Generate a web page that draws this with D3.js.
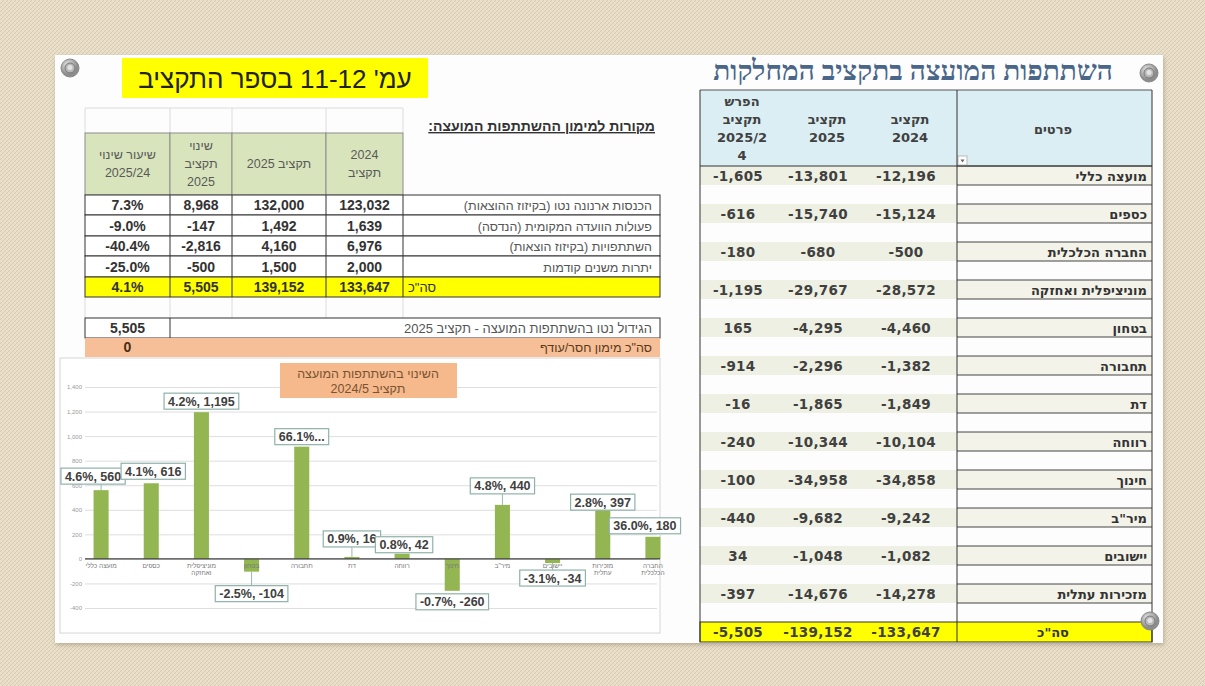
<!DOCTYPE html>
<html>
<head>
<meta charset="utf-8">
<script src="https://cdn.jsdelivr.net/npm/d3@7"></script>
<style>
	body { margin: 0; background: #e6dbc4; }
	svg { display: block; }
</style>
</head>
<body>
<div id="chart"></div>
<script>
// ---- data: right table (department budgets) ----
const deptNames = ['מועצה כללי', 'כספים', 'החברה הכלכלית', 'מוניציפלית ואחזקה', 'בטחון', 'תחבורה', 'דת', 'רווחה', 'חינוך', 'מיר"ב', 'יישובים', 'מזכירות עתלית'];
const budget2024 = [-12196, -15124, -500, -28572, -4460, -1382, -1849, -10104, -34858, -9242, -1082, -14278];
const budget2025 = [-13801, -15740, -680, -29767, -4295, -2296, -1865, -10344, -34958, -9682, -1048, -14676];
const budgetDiff = [-1605, -616, -180, -1195, 165, -914, -16, -240, -100, -440, 34, -397];
const deptTotals = [-5505, -139152, -133647]; // diff, 2025, 2024

// ---- data: left table (funding sources) ----
const sourceNames = ['הכנסות ארנונה נטו (בקיזוז ההוצאות)', 'פעולות הוועדה המקומית (הנדסה)', 'השתתפויות (בקיזוז הוצאות)', 'יתרות משנים קודמות'];
const source2024 = [123032, 1639, 6976, 2000];
const source2025 = [132000, 1492, 4160, 1500];
const sourceChange = [8968, -147, -2816, -500];
const sourceRate = [0.073, -0.09, -0.404, -0.25];
const sourceTotals = [0.041, 5505, 139152, 133647]; // rate, change, 2025, 2024
const netGrowth = 5505;
const fundingGap = 0;

// ---- data: bar chart ----
const chartCats = ['מועצה כללי', 'כספים', 'מוניציפלית ואחזקה', 'בטחון', 'תחבורה', 'דת', 'רווחה', 'חינוך', 'מיר"ב', 'יישובים', 'מזכירות עתלית', 'החברה הכלכלית'];
const chartValues = [560, 616, 1195, -104, 914, 16, 42, -260, 440, -34, 397, 180];
const chartPct = [0.046, 0.041, 0.042, -0.025, 0.661, 0.009, 0.008, -0.007, 0.048, -0.031, 0.028, 0.36];
const yTicks = [-400, -200, 0, 200, 400, 600, 800, 1000, 1200, 1400];

// label nudges (dx, dy) so the boxes sit where the original put them
const labelNudge = [[-8, -2], [2, 0], [0, 1], [0, 8], [0, 2], [0, -6], [2, 3], [0, -3], [0, -7], [0, 1], [0, 4], [-8, 1]];

const W = 1205, H = 686;
const loc = d3.formatLocale({ decimal: '.', thousands: ',', grouping: [3], currency: ['', ''], minus: '-' });
const fmt = loc.format(',');
const pct = loc.format('.1%');

const svg = d3.select('#chart').append('svg').attr('width', W).attr('height', H);
const defs = svg.append('defs');

// canvas texture for the background
const pat = defs.append('pattern').attr('id', 'canvas').attr('width', 4).attr('height', 4).attr('patternUnits', 'userSpaceOnUse');
pat.append('rect').attr('width', 4).attr('height', 4).attr('fill', '#e7ddc7');
pat.append('path').attr('d', 'M0,4L4,0').attr('stroke', '#d8cbb0').attr('stroke-width', 1);
pat.append('path').attr('d', 'M0,0L4,4').attr('stroke', '#f0e9d9').attr('stroke-width', 0.6);

const shadow = defs.append('filter').attr('id', 'shadow').attr('x', '-5%').attr('y', '-5%').attr('width', '110%').attr('height', '110%');
shadow.append('feDropShadow').attr('dx', 1).attr('dy', 2).attr('stdDeviation', 2).attr('flood-color', '#8a7d66').attr('flood-opacity', 0.5);

const pinGrad = defs.append('radialGradient').attr('id', 'pin').attr('cx', '40%').attr('cy', '35%');
pinGrad.append('stop').attr('offset', '0%').attr('stop-color', '#f4f4f4');
pinGrad.append('stop').attr('offset', '100%').attr('stop-color', '#8c8c8c');

svg.append('rect').attr('width', W).attr('height', H).attr('fill', 'url(#canvas)');

// white slide
svg.append('rect').attr('x', 55).attr('y', 55).attr('width', 1108).attr('height', 588)
	.attr('fill', '#fdfdfd').attr('filter', 'url(#shadow)');

// hebrew text helper (align = visual side)
function heb(g, txt, x, y, align, size, opts = {}) {
	const anchor = align === 'right' ? 'start' : align === 'left' ? 'end' : 'middle';
	return g.append('text')
		.attr('x', x).attr('y', y)
		.attr('direction', 'rtl')
		.style('direction', 'rtl')
		.attr('text-anchor', anchor)
		.attr('font-family', opts.family || 'Liberation Sans, Arial, sans-serif')
		.attr('font-size', size)
		.attr('font-weight', opts.weight || 'normal')
		.attr('fill', opts.fill || '#333')
		.attr('text-decoration', opts.underline ? 'underline' : null)
		.text(txt);
}
function num(g, txt, x, y, size, opts = {}) {
	return g.append('text')
		.attr('x', x).attr('y', y)
		.attr('text-anchor', 'middle')
		.attr('font-family', opts.family || 'Liberation Sans, Arial, sans-serif')
		.attr('font-size', size)
		.attr('font-weight', opts.weight || 'bold')
		.attr('fill', opts.fill || '#333')
		.attr('letter-spacing', opts.spacing || 0)
		.text(txt);
}

// ================= left block =================
const left = svg.append('g');

// yellow title
left.append('rect').attr('x', 122).attr('y', 58).attr('width', 306).attr('height', 40).attr('fill', '#ffff00');
heb(left, "עמ'  11-12 בספר התקציב", 275, 88, 'middle', 26, { fill: '#222' });

// faint excel gridlines above the header
const colX = [85, 170, 232, 326, 403, 660];
left.append('line').attr('x1', 85).attr('x2', 403).attr('y1', 108).attr('y2', 108).attr('stroke', '#dcdcdc');
colX.slice(0, 5).forEach(cx => {
	left.append('line').attr('x1', cx).attr('x2', cx).attr('y1', 108).attr('y2', 133).attr('stroke', '#dcdcdc');
	left.append('line').attr('x1', cx).attr('x2', cx).attr('y1', 297).attr('y2', 318).attr('stroke', '#dcdcdc');
});

heb(left, 'מקורות למימון ההשתתפות המועצה:', 655, 131, 'right', 14, { weight: 'bold', underline: true, fill: '#333' });

// header cells
const colMid = d3.range(5).map(i => (colX[i] + colX[i + 1]) / 2);
const headerLines = [['שיעור שינוי', '2025/24'], ['שינוי', 'תקציב', '2025'], ['תקציב 2025'], ['2024', 'תקציב']];
headerLines.forEach((lines, i) => {
	left.append('rect').attr('x', colX[i]).attr('y', 133).attr('width', colX[i + 1] - colX[i]).attr('height', 62)
		.attr('fill', '#d8e4bc').attr('stroke', '#8c8c8c');
	const y0 = 168 - (lines.length - 1) * 9;
	lines.forEach((t, k) => heb(left, t, colMid[i], y0 + k * 18, 'middle', 12.5, { fill: '#595959' }));
});

// data rows
const rowY = [195, 215, 236, 256, 277, 297];
sourceNames.forEach((name, i) => {
	const y0 = rowY[i], y1 = rowY[i + 1];
	left.append('rect').attr('x', 85).attr('y', y0).attr('width', 575).attr('height', y1 - y0)
		.attr('fill', '#fff').attr('stroke', '#333');
	colX.slice(1, 5).forEach(cx => left.append('line').attr('x1', cx).attr('x2', cx).attr('y1', y0).attr('y2', y1).attr('stroke', '#333'));
	const ty = (y0 + y1) / 2 + 5;
	const vals = [pct(sourceRate[i]), fmt(sourceChange[i]), fmt(source2025[i]), fmt(source2024[i])];
	vals.forEach((v, k) => num(left, v, colMid[k], ty, 14));
	heb(left, name, 652, ty, 'right', 12.5, { fill: '#555' });
});

// total row (yellow)
{
	const y0 = rowY[4], y1 = rowY[5];
	left.append('rect').attr('x', 85).attr('y', y0).attr('width', 575).attr('height', y1 - y0)
		.attr('fill', '#ffff00').attr('stroke', '#333');
	colX.slice(1, 5).forEach(cx => left.append('line').attr('x1', cx).attr('x2', cx).attr('y1', y0).attr('y2', y1).attr('stroke', '#333'));
	const ty = (y0 + y1) / 2 + 5;
	const vals = [pct(sourceTotals[0]), fmt(sourceTotals[1]), fmt(sourceTotals[2]), fmt(sourceTotals[3])];
	vals.forEach((v, k) => num(left, v, colMid[k], ty, 14));
	heb(left, 'סה"כ', 408, ty, 'left', 13, { fill: '#333' });
}

// net growth row + funding gap row
left.append('rect').attr('x', 85).attr('y', 318).attr('width', 575).attr('height', 20).attr('fill', '#fff').attr('stroke', '#333');
left.append('line').attr('x1', 170).attr('x2', 170).attr('y1', 318).attr('y2', 338).attr('stroke', '#333');
num(left, fmt(netGrowth), colMid[0], 333, 14);
heb(left, 'הגידול נטו בהשתתפות המועצה - תקציב 2025', 652, 333, 'right', 13, { fill: '#555' });

left.append('rect').attr('x', 85).attr('y', 338).attr('width', 575).attr('height', 19).attr('fill', '#f6bf97');
num(left, fmt(fundingGap), colMid[0], 352, 14, { fill: '#4a2e16' });
heb(left, 'סה"כ מימון חסר/עודף', 652, 352, 'right', 12.5, { fill: '#5a3a1a' });

// ================= bar chart =================
const ch = svg.append('g');
ch.append('rect').attr('x', 60).attr('y', 358).attr('width', 600).attr('height', 275)
	.attr('fill', '#fff').attr('stroke', '#d6d6d6');

const x = d3.scaleBand().domain(chartCats).range([76, 678]);
const y = d3.scaleLinear().domain([-400, 1400]).range([608, 387]);

const yAxis = ch.append('g').attr('transform', 'translate(85,0)')
	.call(d3.axisLeft(y).tickValues(yTicks).tickFormat(fmt).tickSize(-572).tickPadding(3));
yAxis.select('.domain').remove();
yAxis.selectAll('.tick line').attr('stroke', '#dedede');
yAxis.selectAll('.tick text').attr('font-size', 6).attr('fill', '#999').attr('font-family', 'Liberation Sans, Arial, sans-serif');

// chart title box
ch.append('rect').attr('x', 280).attr('y', 363).attr('width', 177).attr('height', 35).attr('fill', '#f5b98c');
heb(ch, 'השינוי בהשתתפות המועצה', 368, 378, 'middle', 12.5, { fill: '#7a5232' });
heb(ch, 'תקציב 2024/5', 368, 393, 'middle', 12.5, { fill: '#7a5232' });

const bw = x.bandwidth();
ch.selectAll('rect.bar').data(chartValues).join('rect')
	.attr('class', 'bar')
	.attr('x', (d, i) => x(chartCats[i]) + bw * 0.35)
	.attr('width', bw * 0.3)
	.attr('y', d => y(Math.max(0, d)))
	.attr('height', d => Math.abs(y(d) - y(0)))
	.attr('fill', '#93b653');

// zero line
ch.append('line').attr('x1', 85).attr('x2', 660).attr('y1', y(0)).attr('y2', y(0)).attr('stroke', '#404040').attr('stroke-width', 1.2);

// category labels under the axis
chartCats.forEach((c, i) => {
	const lines = c.length > 10 ? c.split(' ') : [c];
	lines.forEach((t, k) => heb(ch, t, x(c) + bw / 2, y(0) + 9 + k * 7, 'middle', 6.5, { fill: '#777' }));
});

// data labels
chartValues.forEach((v, i) => {
	const cx = x(chartCats[i]) + bw / 2 + labelNudge[i][0];
	const end = y(v);
	const cy = (v >= 0 ? end - 12 : end + 14) + labelNudge[i][1];
	const txt = i === 4 ? pct(chartPct[i]) + '...' : pct(chartPct[i]) + ', ' + fmt(v);
	const g = ch.append('g');
	const t = num(g, txt, cx, cy + 4.5, 12.5, { fill: '#404040' });
	const tw = t.node().getComputedTextLength();
	const boxTop = cy - 8, boxBot = cy + 8;
	const gap = v >= 0 ? end - boxBot : boxTop - end;
	if (gap > 4) {
		g.insert('line', 'text').attr('x1', x(chartCats[i]) + bw / 2).attr('x2', x(chartCats[i]) + bw / 2)
			.attr('y1', end).attr('y2', v >= 0 ? boxBot : boxTop).attr('stroke', '#9ab8b0');
	}
	g.insert('rect', 'text').attr('x', cx - tw / 2 - 4).attr('y', boxTop).attr('width', tw + 8).attr('height', 16)
		.attr('fill', '#fff').attr('stroke', '#8fb2a9').attr('stroke-width', 1.2);
});

// ================= right table =================
const rt = svg.append('g');
rt.append('text').attr('x', 913).attr('y', 80).attr('text-anchor', 'middle')
	.attr('direction', 'rtl').style('direction', 'rtl')
	.attr('font-family', 'Liberation Serif, DejaVu Serif, serif').attr('font-size', 28).attr('font-weight', 'bold')
	.attr('fill', '#4a6689').text('השתתפות המועצה בתקציב המחלקות');

const tX0 = 700, tXsplit = 957, tX1 = 1152;
const valCols = [738, 818, 906];
const hdrCols = [742, 827, 910];

rt.append('rect').attr('x', tX0).attr('y', 90).attr('width', tX1 - tX0).attr('height', 76).attr('fill', '#dbeef3');

const rowCy = deptNames.map((d, i) => 176 + 38 * i);
deptNames.forEach((name, i) => {
	const cy = rowCy[i];
	rt.append('rect').attr('x', tX0).attr('y', cy - 10).attr('width', tXsplit - tX0).attr('height', 19).attr('fill', '#eef0e3');
	rt.append('rect').attr('x', tXsplit).attr('y', cy - 10).attr('width', tX1 - tXsplit).attr('height', 19).attr('fill', '#f3f3ea');
	[cy - 10, cy + 9].forEach(ly => rt.append('line').attr('x1', tXsplit).attr('x2', tX1).attr('y1', ly).attr('y2', ly).attr('stroke', '#444'));
	const vals = [budgetDiff[i], budget2025[i], budget2024[i]];
	vals.forEach((v, k) => num(rt, fmt(v), valCols[k], cy + 5, 13.5, { family: 'DejaVu Sans, sans-serif', fill: '#404040', spacing: 0.3 }));
	heb(rt, name, 1147, cy + 5, 'right', 13, { family: 'DejaVu Sans, sans-serif', weight: 'bold', fill: '#333' });
});

// total row
rt.append('rect').attr('x', tX0).attr('y', 622).attr('width', tX1 - tX0).attr('height', 20).attr('fill', '#ffff00').attr('stroke', '#333');
deptTotals.forEach((v, k) => num(rt, fmt(v), valCols[k], 637, 13.5, { family: 'DejaVu Sans, sans-serif', fill: '#404040', spacing: 0.3 }));
heb(rt, 'סה"כ', 1053, 637, 'middle', 13, { family: 'DejaVu Sans, sans-serif', weight: 'bold', fill: '#333' });

// header texts
const hdrOpts = { family: 'DejaVu Sans, sans-serif', weight: 'bold', fill: '#404040' };
[['הפרש', 'תקציב', '2025/2', '4'], ['תקציב', '2025'], ['תקציב', '2024']].forEach((lines, k) => {
	const y0 = k === 0 ? 106 : 124;
	lines.forEach((t, j) => heb(rt, t, hdrCols[k], y0 + j * 18, 'middle', 13, hdrOpts));
});
heb(rt, 'פרטים', 1053, 134, 'middle', 13, hdrOpts);
rt.append('rect').attr('x', 958).attr('y', 156).attr('width', 9).attr('height', 9).attr('fill', '#fff').attr('stroke', '#bbb');
rt.append('path').attr('d', 'M960.5,159.5h4l-2,3z').attr('fill', '#666');

// borders
rt.append('line').attr('x1', tX0).attr('x2', tX1).attr('y1', 90).attr('y2', 90).attr('stroke', '#555');
rt.append('line').attr('x1', tX0).attr('x2', tX1).attr('y1', 166).attr('y2', 166).attr('stroke', '#333');
[tX0, tXsplit, tX1].forEach(lx => rt.append('line').attr('x1', lx).attr('x2', lx).attr('y1', 90).attr('y2', 642).attr('stroke', '#333'));

// pins
[[70, 68], [1149, 73], [1150, 621]].forEach(([px, py]) => {
	const p = svg.append('g').attr('transform', `translate(${px},${py})`);
	p.append('circle').attr('r', 9).attr('fill', 'url(#pin)').attr('stroke', '#8a8a8a');
	p.append('circle').attr('r', 5).attr('fill', '#b8b8b8').attr('stroke', '#777');
	p.append('circle').attr('r', 2.5).attr('cy', -0.5).attr('fill', '#e2e2e2');
});
</script>
</body>
</html>
